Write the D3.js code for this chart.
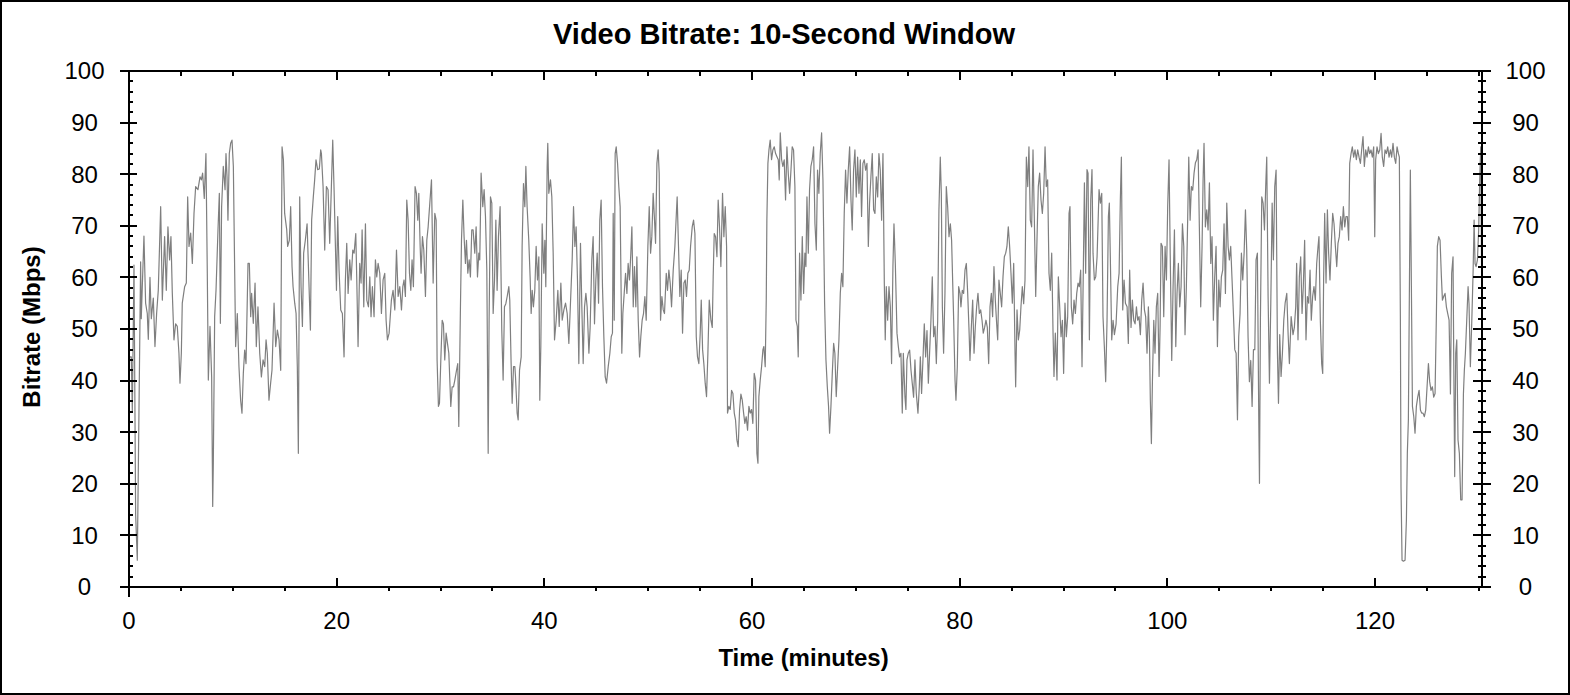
<!DOCTYPE html>
<html>
<head>
<meta charset="utf-8">
<script src="https://cdn.jsdelivr.net/npm/d3@7"></script>
<style>
  html, body { margin: 0; padding: 0; background: #fff; }
  svg { display: block; font-family: "Liberation Sans", Arial, sans-serif; }
</style>
</head>
<body>
<div id="chart"></div>
<script>
// Tick values
const xMajorTicks = [0, 20, 40, 60, 80, 100, 120];
const yMajorTicks = [0, 10, 20, 30, 40, 50, 60, 70, 80, 90, 100];

// Bitrate samples (time in minutes, bitrate in Mbps)
const minutes = [
  0, 0.09, 0.22, 0.32, 0.48, 0.64, 0.80, 0.96, 1.12, 1.18,
  1.44, 1.60, 1.76, 1.86, 2.02, 2.15, 2.34, 2.50, 2.66, 2.82,
  3.05, 3.21, 3.43, 3.59, 3.75, 3.91, 4.04, 4.17, 4.33, 4.49,
  4.65, 4.81, 4.91, 5.04, 5.13, 5.36, 5.52, 5.65, 5.78, 5.94,
  6.10, 6.26, 6.42, 6.64, 6.84, 6.97, 7.09, 7.25, 7.41, 7.54,
  7.64, 7.80, 7.96, 8.06, 8.12, 8.25, 8.38, 8.57, 8.70, 8.80,
  8.92, 9.08, 9.25, 9.34, 9.44, 9.53, 9.66, 9.79, 9.92, 10.05,
  10.18, 10.27, 10.43, 10.59, 10.75, 10.88, 11.01, 11.14, 11.27, 11.46,
  11.59, 11.72, 11.81, 11.97, 12.14, 12.26, 12.42, 12.59, 12.75, 12.91,
  13.07, 13.20, 13.32, 13.48, 13.64, 13.77, 13.97, 14.13, 14.29, 14.45,
  14.61, 14.74, 14.87, 14.99, 15.19, 15.28, 15.44, 15.57, 15.70, 15.80,
  15.96, 16.09, 16.21, 16.31, 16.44, 16.57, 16.70, 16.82, 16.98, 17.15,
  17.34, 17.47, 17.59, 17.75, 17.88, 18.01, 18.17, 18.33, 18.46,
  18.53, 18.69, 18.85, 19.01, 19.17, 19.33, 19.49, 19.62, 19.75, 19.88,
  19.98, 20.10, 20.23, 20.39, 20.55, 20.71, 20.84, 20.97, 21.10, 21.26,
  21.39, 21.55, 21.68, 21.84, 21.93, 22.06, 22.22, 22.35, 22.45, 22.61,
  22.77, 22.90, 23.06, 23.19, 23.31, 23.44, 23.60, 23.73, 23.86, 23.99,
  24.15, 24.31, 24.47, 24.63, 24.76, 24.89, 25.05, 25.27, 25.43, 25.60,
  25.76, 25.92, 26.08, 26.24, 26.37, 26.49, 26.62, 26.75, 26.88, 27.01,
  27.14, 27.26, 27.39, 27.55, 27.68, 27.81, 27.91, 28.04, 28.13, 28.26,
  28.39, 28.55, 28.68, 28.81, 28.97, 29.13, 29.29, 29.45, 29.58, 29.67,
  29.80, 29.90, 30.03, 30.16, 30.28, 30.41, 30.54, 30.67, 30.80, 30.99,
  31.12, 31.25, 31.38, 31.54, 31.66, 31.76, 31.92, 32.02, 32.15, 32.27,
  32.40, 32.50, 32.63, 32.76, 32.88, 33.01, 33.14, 33.30, 33.43, 33.56,
  33.69, 33.78, 33.91, 34.07, 34.20, 34.33, 34.46, 34.59, 34.68, 34.81,
  34.94, 35.07, 35.20, 35.33, 35.45, 35.58, 35.74, 35.90, 36.03, 36.16,
  36.29, 36.42, 36.58, 36.67, 36.80, 36.90, 37.03, 37.16,
  37.22, 37.38, 37.48, 37.61, 37.77, 37.86, 37.99, 38.12, 38.22, 38.34,
  38.50, 38.63, 38.73, 38.83, 38.95, 39.08, 39.21, 39.34, 39.47, 39.56,
  39.66, 39.79, 39.95, 40.05, 40.14, 40.27, 40.33, 40.43, 40.59, 40.72,
  40.85, 40.98, 41.14, 41.30, 41.43, 41.59, 41.72, 41.88, 42.04, 42.20,
  42.36, 42.49, 42.68, 42.81, 42.94, 43.06, 43.19, 43.32, 43.48, 43.61,
  43.74, 43.87, 44.00, 44.12, 44.29, 44.41, 44.57, 44.70, 44.83, 44.96,
  45.09, 45.22, 45.34, 45.47, 45.60, 45.73, 45.86, 45.99, 46.15, 46.31,
  46.44, 46.56, 46.63, 46.73, 46.82, 46.92, 47.05, 47.17, 47.30, 47.46,
  47.56, 47.69, 47.82, 47.95, 48.07, 48.20, 48.33, 48.43, 48.56, 48.68,
  48.81, 48.91, 49.04, 49.17, 49.29, 49.42, 49.55, 49.68, 49.81, 49.97,
  50.10, 50.23, 50.35, 50.48, 50.61, 50.71, 50.84, 50.96, 51.06, 51.19,
  51.32, 51.45, 51.57, 51.74, 51.86, 51.99, 52.12, 52.25, 52.41, 52.57,
  52.70, 52.79, 52.92, 53.05, 53.18, 53.31, 53.44, 53.57, 53.69, 53.82,
  53.95, 54.08, 54.24, 54.37, 54.50, 54.63, 54.75, 54.88, 55.01, 55.11,
  55.24, 55.36, 55.49, 55.62, 55.75, 55.88,
  56.04, 56.17, 56.26, 56.36, 56.49, 56.62, 56.74, 56.87, 57.00, 57.16,
  57.29, 57.42, 57.55, 57.64, 57.77, 57.90, 58.03, 58.16, 58.29, 58.41,
  58.54, 58.67, 58.80, 58.93, 59.06, 59.19, 59.31, 59.44, 59.57, 59.70,
  59.83, 59.96, 60.08, 60.21, 60.34, 60.47, 60.57, 60.66, 60.79, 60.92,
  61.05, 61.14, 61.27, 61.37, 61.43, 61.53, 61.63, 61.75, 61.88, 62.01,
  62.14, 62.27, 62.40, 62.53, 62.62, 62.72, 62.85, 62.97, 63.10, 63.23,
  63.36, 63.49, 63.62, 63.75, 63.87, 64.00, 64.13, 64.23, 64.36, 64.45,
  64.58, 64.71, 64.84, 64.97, 65.09, 65.19, 65.29, 65.42, 65.54, 65.67,
  65.80, 65.93, 66.06, 66.19, 66.31, 66.44, 66.57, 66.70, 66.83, 66.99,
  67.12, 67.25, 67.37, 67.47, 67.60, 67.73, 67.86, 67.98, 68.11, 68.24,
  68.37, 68.50, 68.63, 68.75, 68.88, 69.01, 69.14, 69.27, 69.40, 69.53,
  69.65, 69.78, 69.91, 70.04, 70.17, 70.30, 70.43, 70.55, 70.68, 70.81,
  70.94, 71.07, 71.20, 71.32, 71.45, 71.58, 71.71, 71.84, 71.97, 72.10,
  72.22, 72.35, 72.48, 72.61, 72.74, 72.83, 72.93, 73.06, 73.19, 73.32,
  73.44, 73.57, 73.67, 73.80, 73.96, 74.09, 74.21, 74.34, 74.47, 74.57,
  74.73, 74.82, 74.92, 75.05, 75.18, 75.31, 75.43, 75.56, 75.69, 75.82,
  75.98, 76.11, 76.21, 76.33, 76.46, 76.59, 76.72, 76.85, 76.98, 77.10,
  77.23, 77.36, 77.49, 77.62, 77.75, 77.88, 78.00, 78.13, 78.23, 78.33,
  78.45, 78.58, 78.71, 78.84, 78.97, 79.10, 79.22, 79.42, 79.55, 79.64,
  79.77, 79.90, 80.03, 80.12, 80.25, 80.38, 80.51, 80.64, 80.77, 80.89,
  80.99, 81.12, 81.25, 81.38, 81.50, 81.63, 81.76, 81.89, 82.02, 82.15,
  82.27, 82.40, 82.53, 82.66, 82.79, 82.92, 83.05, 83.17, 83.30, 83.43,
  83.56, 83.66, 83.78, 83.91, 84.04, 84.17, 84.30, 84.43, 84.55, 84.68,
  84.81, 84.94, 85.07, 85.20, 85.33, 85.39, 85.52, 85.65, 85.78, 85.90,
  86.03, 86.16, 86.29, 86.42, 86.55, 86.67, 86.80, 86.93, 87.06, 87.19,
  87.32, 87.45, 87.57, 87.70, 87.83, 87.96, 88.09, 88.22, 88.34, 88.47,
  88.60, 88.73, 88.86, 88.99, 89.08, 89.21, 89.37, 89.50, 89.63, 89.76,
  89.89, 90.01, 90.14, 90.27, 90.40, 90.53, 90.62, 90.75, 90.88, 91.01,
  91.14, 91.27, 91.40, 91.52, 91.65, 91.78, 91.91, 92.01, 92.13, 92.26,
  92.36, 92.49, 92.62, 92.74, 92.84, 92.97, 93.10, 93.23,
  93.42, 93.55, 93.68, 93.80, 93.93, 94.06, 94.19, 94.32, 94.41, 94.51,
  94.64, 94.77, 94.90, 95.06, 95.22, 95.35, 95.47, 95.57, 95.70, 95.83,
  95.96, 96.12, 96.24, 96.37, 96.50, 96.63, 96.76, 96.89, 97.02, 97.14,
  97.27, 97.40, 97.53, 97.66, 97.79, 97.91, 98.04, 98.17, 98.27, 98.36,
  98.46, 98.56, 98.69, 98.81, 98.94, 99.07, 99.20, 99.30, 99.39, 99.52,
  99.65, 99.78, 99.91, 100.03, 100.16, 100.29, 100.42, 100.55, 100.68, 100.81,
  100.93, 101.06, 101.19, 101.32, 101.45, 101.58, 101.70, 101.83, 101.96, 102.06,
  102.19, 102.31, 102.44, 102.57, 102.70, 102.83, 102.96, 103.08, 103.21, 103.34,
  103.44, 103.53, 103.66, 103.79, 103.92, 104.05, 104.18, 104.30, 104.43, 104.56,
  104.69, 104.82, 104.95, 105.08, 105.20, 105.33, 105.46, 105.59, 105.72, 105.85,
  105.97, 106.10, 106.23, 106.36, 106.49, 106.62, 106.75, 106.87, 107.00, 107.13,
  107.26, 107.39, 107.52, 107.64, 107.77, 107.90, 108.03, 108.16, 108.29, 108.42,
  108.54, 108.67, 108.80, 108.87, 108.96, 109.09, 109.22, 109.35, 109.47, 109.57,
  109.70, 109.83, 109.96, 110.09, 110.21, 110.34, 110.47, 110.60, 110.70, 110.82,
  110.95, 111.08, 111.21, 111.34, 111.50, 111.63, 111.75, 111.92,
  112.10, 112.23, 112.36, 112.45, 112.58, 112.71, 112.84, 112.97, 113.09, 113.22,
  113.35, 113.48, 113.61, 113.74, 113.86, 113.99, 114.12, 114.25, 114.38, 114.51,
  114.60, 114.73, 114.86, 114.96, 115.05, 115.15, 115.28, 115.41, 115.53, 115.66,
  115.79, 115.92, 116.05, 116.18, 116.31, 116.43, 116.56, 116.69, 116.82, 116.95,
  117.08, 117.20, 117.33, 117.46, 117.56, 117.69, 117.81, 117.94, 118.07, 118.20,
  118.33, 118.46, 118.59, 118.71, 118.84, 118.97, 119.10, 119.23, 119.36, 119.48,
  119.61, 119.74, 119.87, 119.97, 120.06, 120.19, 120.32, 120.45, 120.58, 120.70,
  120.83, 120.96, 121.09, 121.22, 121.35, 121.48, 121.60, 121.73, 121.86, 121.99,
  122.12, 122.25, 122.34, 122.44, 122.50, 122.60, 122.73, 122.89, 123.02, 123.11,
  123.21, 123.31, 123.40, 123.50, 123.60, 123.73, 123.85, 123.98, 124.11, 124.24,
  124.37, 124.49, 124.62, 124.75, 124.88, 125.01, 125.14, 125.26, 125.39, 125.52,
  125.65, 125.78, 125.91, 126.00, 126.13, 126.26, 126.39, 126.49, 126.61, 126.74,
  126.87, 127.00, 127.13, 127.26, 127.38, 127.51, 127.58, 127.67, 127.77, 127.87,
  127.99, 128.12, 128.25, 128.38, 128.51, 128.60, 128.70, 128.83, 128.96, 129.05,
  129.18, 129.31, 129.44, 129.54, 129.63, 129.73, 129.86, 129.98, 130.08, 130.18, 130.27
];

const mbps = [
  44, 44.6, 44.6, 34, 62.4, 14, 5.2, 34, 63, 52,
  68, 55, 53, 48, 60, 52, 56, 46.6, 53, 57.5,
  73.7, 55.6, 67.9, 57.5, 69.8, 63.4, 67.9, 57, 47.9, 51,
  50.5, 45.3, 39.5, 45.3, 55, 58.2, 58.9, 75.6, 66, 68.6,
  62.7, 72.4, 77.6, 77, 79.5, 78.9, 80.2, 75.3, 84, 60.8,
  40.1, 50.5, 40.7, 15.6, 24, 52.4, 57.5, 69.2, 76.3, 51.1,
  73.7, 81.5, 77, 84, 79.5, 71.1, 84, 86, 86.6, 81.5,
  60.8, 46.6, 53, 42.7, 36.2, 33.7, 41.4, 45.9, 43.3, 62.7,
  62.7, 52.4, 56.9, 51.1, 58.9, 46.6, 54.3, 45.3, 40.7, 44,
  42.7, 47.9, 45.3, 36.2, 39.5, 42, 55, 46.6, 49.8, 47.9,
  42, 85.3, 82.8, 72.4, 69.2, 66, 67.2, 73.7, 62.1, 58.2,
  55, 53, 42.7, 25.9, 75.6, 58.2, 50.5, 64.7, 67.2, 70.4,
  58.2, 49.8, 71.1, 75.6, 78.9, 82.8, 80.9, 81, 84.7,
  84, 77.6, 65.3, 77.6, 77, 66.6, 77.6, 86.6, 77, 66,
  57.5, 71.8, 61.4, 53.7, 53, 44.6, 59.5, 66.6, 56.9, 63.4,
  59.5, 65.3, 64.7, 68.5, 60.1, 46.6, 62.7, 58.9, 69.2, 54.3,
  70.4, 55.6, 54.3, 60.1, 52.4, 58.2, 52.4, 63.4, 60.1, 62.7,
  60.8, 53, 59.5, 60.8, 51.7, 47.9, 49.2, 55.6, 57.5, 53.7,
  65.3, 56.3, 58.2, 53.7, 58.2, 59.5, 56.3, 75, 71.1, 60.8,
  57.5, 63.4, 58.2, 77.6, 76.3, 71.1, 76.3, 66, 60.8, 67.9,
  65.3, 56.3, 67.2, 69.8, 74.4, 78.9, 58.9, 72.4, 71.1, 44,
  35, 35.6, 44, 51.7, 51, 44, 49.2, 47.2, 45.3, 35,
  38.8, 38.8, 40.1, 42, 43.3, 31.1, 54.3, 67.2, 75, 67.9,
  62.7, 67.2, 60.8, 63.4, 60.1, 69.2, 69.2, 64.7, 69.8, 60.1,
  64.7, 63.4, 80.2, 73.7, 77, 71.8, 61.4, 25.9, 51.7, 75.6,
  74.4, 53, 59.5, 71.1, 57.5, 67.9, 73.7, 49.8, 40.1, 54.3,
  54.9, 56.3, 58.2, 55.6, 43.3, 35.6, 42.7, 42.7,
  40.8, 33.7, 32.4, 42, 44.6, 66, 78.2, 73.7, 81.5, 73.7,
  67.2, 60.1, 53, 57.5, 54.3, 57.5, 66, 59.5, 64, 36.2,
  46.6, 70.4, 60.8, 67.2, 58.2, 81.5, 86, 76.3, 78.9, 75.6,
  64.7, 47.9, 51.7, 57.5, 50.5, 58.9, 51.7, 53.7, 55, 53,
  47.2, 53.7, 63.4, 73.7, 66, 69.8, 59.5, 43.3, 66.6, 54.3,
  43.3, 54.3, 56.9, 54.3, 45.3, 50.3, 63.4, 67.9, 51, 59.5,
  64.7, 55, 71.1, 75, 58.2, 48.5, 40.7, 39.5, 42.7, 45.3,
  48.5, 49.2, 72.4, 51.7, 84, 85.3, 82.1, 77.6, 73.7, 45.3,
  53, 56.9, 60.8, 56.9, 62.7, 59.5, 64.7, 69.8, 54.3, 62.1,
  54.3, 64, 51.7, 44.6, 48.5, 51.7, 53, 56.3, 51.7, 66,
  73.7, 64.7, 67.9, 76.3, 71.1, 66.6, 82.1, 84.7, 80.2, 51.7,
  56.3, 53.7, 53, 60.8, 57.5, 61.4, 58.9, 54.3, 61.4, 66,
  71.8, 75.6, 66, 56.3, 61.4, 49.2, 58.9, 59.5, 56.3, 60.8,
  61.4, 66, 69.8, 71.1, 68.5, 48.5, 44.6, 43.3, 49.2, 55.6,
  46, 43.3, 39.5, 36.9, 45.3, 55.6,
  51.7, 50.3, 60.1, 68.5, 67.9, 64, 75, 69.8, 62.1, 76.3,
  67.9, 73.7, 66, 33.7, 35, 34.4, 38.1, 37.5, 33.7, 32.4,
  28.5, 27.2, 34.3, 37.4, 36.2, 33.7, 31.7, 33, 30.4, 35,
  33.7, 34.4, 31.7, 41.4, 40.1, 25.9, 24, 36.9, 40.1, 42.7,
  46, 46.6, 42.7, 55.6, 71.1, 82.1, 84.7, 86.6, 82.8, 84.7,
  85.3, 84, 83.4, 82.8, 78.9, 88, 82.8, 81.5, 82.8, 75,
  85.3, 80.2, 76.3, 80.8, 85.3, 84.7, 77.6, 51.7, 50.5, 44.6,
  64.7, 55.6, 67.9, 56.9, 64.7, 62.1, 75.6, 64.7, 77, 81.5,
  82.8, 85.3, 70.4, 65.3, 80.8, 76.3, 84, 88, 78.9, 55,
  44, 38.8, 35, 29.8, 35, 41.4, 47.2, 45.3, 36.9, 42.4,
  47.9, 56.9, 60.8, 58.2, 72.4, 80.8, 74.4, 80.8, 85.3, 75,
  69.2, 80.8, 84.7, 75.6, 83.3, 76.3, 82.8, 71.8, 82.1, 82.8,
  80.8, 82.1, 66, 74.4, 79.5, 84, 73.1, 72.4, 79.5, 75.6,
  84, 80.8, 71.1, 84, 58.9, 47.9, 58.2, 51.7, 58.2, 54.3,
  43.3, 62.1, 70.4, 62.7, 49.2, 46.6, 44.6, 45.3, 33.7, 45.3,
  36.8, 34.4, 44, 45.3, 45.9, 42, 39.5, 36.8, 44, 37.5,
  33.7, 38.8, 44.6, 37.5, 44, 51, 44.6, 49.7, 39.5, 45.3,
  51.7, 60.1, 48.5, 50.5, 43.3, 51.7, 73, 83.3, 76.3, 54.3,
  45.3, 56.9, 77.6, 73.7, 67.9, 70.4, 67.2, 51.7, 40.1, 36.2,
  42.7, 58.2, 56.9, 54.3, 57.5, 56.9, 61.4, 62.7, 56.9, 50.3,
  43.9, 50.3, 55.6, 45.3, 50.3, 54.3, 56.9, 53, 53.7, 51.7,
  49.2, 50.3, 51.7, 50.3, 43.3, 54.3, 56.9, 52.4, 62.1, 55.6,
  51, 47.9, 59.5, 56.9, 54.3, 60.1, 64, 64.7, 66, 69.8,
  66, 60.8, 55, 62.7, 45.3, 38.8, 53.7, 47.9, 49.8, 54.3,
  58.2, 54.9, 59.5, 83.3, 77.6, 85.3, 71.1, 69.8, 84.7, 71.1,
  56.3, 67.9, 77.6, 80.2, 75, 72.4, 76.3, 85.3, 77.6, 78.9,
  60.8, 57.5, 64.7, 49.2, 40.8, 49.2, 40.1, 60.1, 54.3, 48.5,
  51.7, 41.4, 55, 48.5, 52.4, 72.4, 73.7, 54.3, 51, 55.6,
  53, 56.9, 58.9, 58.2, 61.4, 42.7, 62.1, 78.3, 60.8, 80.9,
  80.2, 47.9, 75, 80.9, 64.7, 59.5, 60.1, 64,
  77, 74.4, 76.3, 52.4, 46.6, 39.8, 51.7, 71.8, 74.4, 63.4,
  47.9, 51.7, 48.9, 51, 58.2, 60.8, 75, 83.3, 53.7, 59.5,
  55, 54.3, 47.2, 61.4, 50.3, 55.6, 51.7, 51, 54.3, 51.7,
  52.4, 48.9, 55.6, 58.9, 53.7, 52.4, 45.3, 54.3, 48.5, 36.2,
  27.8, 39.8, 51.7, 45.3, 54.3, 56.9, 40.8, 50.5, 66.6, 66,
  52.4, 66, 59.5, 73.7, 82.8, 62.1, 43.9, 58.2, 69.2, 46.6,
  56.9, 62.7, 54.3, 58.2, 70.4, 66, 48.9, 58.2, 71.8, 83.3,
  71.1, 77.6, 76.9, 80.2, 82.2, 82.8, 84.7, 69.8, 54.3, 66,
  78.9, 86, 69.8, 73.1, 69.2, 78.3, 62.7, 67.9, 51.7, 60.1,
  66, 46.6, 59.5, 54.3, 60.1, 61.4, 70.4, 56.9, 74.4, 66,
  63.4, 66, 59.5, 53, 46, 45.3, 32.4, 48.5, 53, 64.7,
  59.5, 64.7, 73.1, 65.4, 48.5, 39.8, 43.9, 35, 46, 46,
  63.4, 64.7, 33, 20.1, 51.7, 75.6, 74.4, 69.2, 77.6, 83.3,
  56.3, 39.5, 55, 74.4, 63.4, 77.6, 80.8, 45.3, 35.6, 48.9,
  40.8, 45.3, 51.7, 55, 56.9, 48.9, 43.3, 52.4,
  48.9, 50.3, 54.3, 62.7, 47.9, 60.1, 64, 53, 58.2, 67.2,
  47.9, 56.3, 55, 61.4, 51.7, 56.3, 58.2, 55.6, 62.7, 66,
  67.9, 51.7, 43.3, 41.4, 60.1, 72.4, 58.9, 73.1, 64.7, 59.5,
  66.6, 72.4, 70.4, 66, 62.1, 66.6, 67.9, 71.8, 69.2, 73.7,
  69.8, 71.8, 71.8, 67.2, 82.1, 84, 85.3, 83.3, 84.7, 82.8,
  84.7, 83.3, 82.1, 84.7, 87.3, 81.5, 84.7, 83.3, 85.3, 84,
  84.7, 83.3, 85.3, 67.9, 82.8, 85.3, 84, 84.7, 87.9, 83.3,
  81.5, 84.7, 84, 85.3, 83.3, 84.7, 83.3, 86, 83.3, 82.1,
  85.3, 84, 83.3, 51.7, 19.4, 5.2, 5, 5.2, 13, 25.9,
  32.4, 58.2, 80.8, 58.2, 35, 33, 29.8, 35, 36.8, 38.1,
  34.3, 33.7, 33.7, 33, 34.3, 38.8, 43.3, 39.8, 38.1, 38.8,
  36.8, 37.5, 53, 66, 67.9, 67.2, 60.1, 55.6, 56.3, 56.9,
  54.3, 53, 51.7, 37.4, 60.8, 64, 43.9, 21.4, 45.3, 47.9,
  28.5, 25.9, 16.9, 16.9, 37.4, 42, 45.3, 51.7, 58.2, 54.9,
  42.7, 51, 60.8, 71.1, 62.7, 62.1, 63.4, 69.2, 78.9, 85.3, 58.2
];

const data = minutes.map((t, i) => ({ t: t, v: mbps[i] }));

// Set up the SVG dimensions
const width = 1570;
const height = 695;

const svg = d3.select('#chart')
  .append('svg')
  .attr('width', width)
  .attr('height', height);

// Outer frame
svg.append('rect')
  .attr('x', 1)
  .attr('y', 1)
  .attr('width', width - 2)
  .attr('height', height - 2)
  .attr('fill', 'none')
  .attr('stroke', '#000')
  .attr('stroke-width', 2);

// Scales
const xScale = d3.scaleLinear()
  .domain([0, 130.3])
  .range([129, 1482]);

const yScale = d3.scaleLinear()
  .domain([0, 100])
  .range([587, 71]);

const xMinorTicks = d3.range(5, 131, 5).filter(d => d % 20 !== 0);
const yMinorTicks = d3.range(2, 100, 2).filter(d => d % 10 !== 0);

const plotLeft = xScale(0);
const plotRight = xScale(130.3);
const plotTop = yScale(100);
const plotBottom = yScale(0);

// The bitrate line, clipped to the plot box
svg.append('clipPath')
  .attr('id', 'plot-clip')
  .append('rect')
  .attr('x', plotLeft)
  .attr('y', plotTop)
  .attr('width', plotRight - plotLeft)
  .attr('height', plotBottom - plotTop);

const line = d3.line()
  .x(d => xScale(d.t))
  .y(d => yScale(d.v));

svg.append('path')
  .datum(data)
  .attr('clip-path', 'url(#plot-clip)')
  .attr('fill', 'none')
  .attr('stroke', '#7f7f7f')
  .attr('stroke-width', 1.2)
  .attr('stroke-linejoin', 'round')
  .attr('d', line);

// Axes frame and ticks
const axes = svg.append('g')
  .attr('stroke', '#000')
  .attr('stroke-width', 2)
  .attr('shape-rendering', 'crispEdges');

// frame lines (horizontal ones stick out a little on both sides)
axes.append('line').attr('x1', plotLeft - 9).attr('x2', plotRight + 9).attr('y1', plotTop).attr('y2', plotTop);
axes.append('line').attr('x1', plotLeft - 9).attr('x2', plotRight + 9).attr('y1', plotBottom).attr('y2', plotBottom);
axes.append('line').attr('x1', plotLeft).attr('x2', plotLeft).attr('y1', plotTop).attr('y2', plotBottom + 10);
axes.append('line').attr('x1', plotRight).attr('x2', plotRight).attr('y1', plotTop).attr('y2', plotBottom);

// x major ticks point inward, top and bottom
axes.selectAll('.xmaj-b')
  .data(xMajorTicks.slice(1))
  .enter().append('line')
  .attr('x1', d => xScale(d)).attr('x2', d => xScale(d))
  .attr('y1', plotBottom).attr('y2', plotBottom - 9);

axes.selectAll('.xmaj-t')
  .data(xMajorTicks.slice(1))
  .enter().append('line')
  .attr('x1', d => xScale(d)).attr('x2', d => xScale(d))
  .attr('y1', plotTop).attr('y2', plotTop + 9);

// x minor ticks: outward at the bottom, inward at the top
axes.selectAll('.xmin-b')
  .data(xMinorTicks)
  .enter().append('line')
  .attr('x1', d => xScale(d)).attr('x2', d => xScale(d))
  .attr('y1', plotBottom).attr('y2', plotBottom + 4);

axes.selectAll('.xmin-t')
  .data(xMinorTicks)
  .enter().append('line')
  .attr('x1', d => xScale(d)).attr('x2', d => xScale(d))
  .attr('y1', plotTop).attr('y2', plotTop + 5);

// y major ticks cross both axes
axes.selectAll('.ymaj-l')
  .data(yMajorTicks)
  .enter().append('line')
  .attr('x1', plotLeft - 9).attr('x2', plotLeft + 8)
  .attr('y1', d => yScale(d)).attr('y2', d => yScale(d));

axes.selectAll('.ymaj-r')
  .data(yMajorTicks)
  .enter().append('line')
  .attr('x1', plotRight - 9).attr('x2', plotRight + 9)
  .attr('y1', d => yScale(d)).attr('y2', d => yScale(d));

// y minor ticks
axes.selectAll('.ymin-l')
  .data(yMinorTicks)
  .enter().append('line')
  .attr('x1', plotLeft).attr('x2', plotLeft + 4)
  .attr('y1', d => yScale(d)).attr('y2', d => yScale(d));

axes.selectAll('.ymin-r')
  .data(yMinorTicks)
  .enter().append('line')
  .attr('x1', plotRight - 4).attr('x2', plotRight + 4)
  .attr('y1', d => yScale(d)).attr('y2', d => yScale(d));

// Tick labels
const labelFont = 24;

svg.selectAll('.xlabel')
  .data(xMajorTicks)
  .enter().append('text')
  .attr('x', d => xScale(d))
  .attr('y', plotBottom + 41.5)
  .attr('text-anchor', 'middle')
  .attr('font-size', labelFont)
  .text(d => d);

svg.selectAll('.ylabel-l')
  .data(yMajorTicks)
  .enter().append('text')
  .attr('x', 84.5)
  .attr('y', d => yScale(d))
  .attr('dy', '0.35em')
  .attr('text-anchor', 'middle')
  .attr('font-size', labelFont)
  .text(d => d);

svg.selectAll('.ylabel-r')
  .data(yMajorTicks)
  .enter().append('text')
  .attr('x', 1525.5)
  .attr('y', d => yScale(d))
  .attr('dy', '0.35em')
  .attr('text-anchor', 'middle')
  .attr('font-size', labelFont)
  .text(d => d);

// Title and axis titles
svg.append('text')
  .attr('x', 784)
  .attr('y', 44)
  .attr('text-anchor', 'middle')
  .attr('font-size', 30)
  .attr('font-weight', 'bold')
  .attr('textLength', 462)
  .attr('lengthAdjust', 'spacingAndGlyphs')
  .text('Video Bitrate: 10-Second Window');

svg.append('text')
  .attr('x', 803.5)
  .attr('y', 666)
  .attr('text-anchor', 'middle')
  .attr('font-size', 24)
  .attr('font-weight', 'bold')
  .text('Time (minutes)');

svg.append('text')
  .attr('transform', 'translate(40, 327) rotate(-90)')
  .attr('text-anchor', 'middle')
  .attr('font-size', 24)
  .attr('font-weight', 'bold')
  .text('Bitrate (Mbps)');
</script>
</body>
</html>
